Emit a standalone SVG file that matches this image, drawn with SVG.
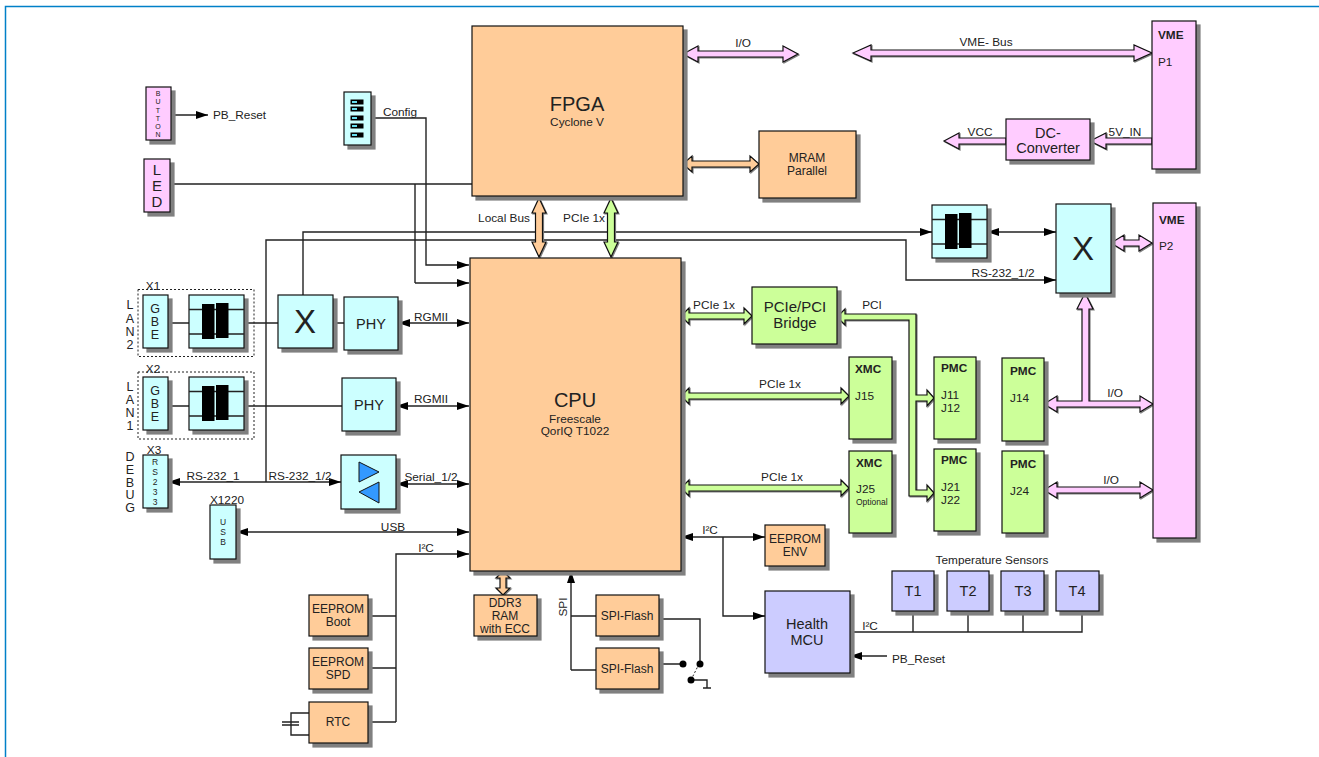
<svg xmlns="http://www.w3.org/2000/svg" width="1319" height="757" viewBox="0 0 1319 757">
<style>
text{font-family:"Liberation Sans",Arial,sans-serif;font-size:11.800px;fill:#222;text-anchor:middle}
.box{stroke:#111;stroke-width:1.2;filter:drop-shadow(4px 4px 0 #808080)}
.or{fill:#FFCC99}.cy{fill:#CCFFFF}.gr{fill:#CCFF99}.pk{fill:#FFCCFF}.lv{fill:#CCCCFF}
.ln{fill:none;stroke:#222;stroke-width:1.4}
.ar{marker-end:url(#a)}
.db{marker-start:url(#as);marker-end:url(#a)}
.th{stroke:#111;stroke-width:1.2;filter:drop-shadow(1px 1px 0 #808080)}
.l{text-anchor:start}
.b{font-weight:bold}
.t12{font-size:12px}
.t145{font-size:14.500px}
.t85{font-size:8.500px}
.t125{font-size:12.500px}
</style>
<defs>
<marker id="a" markerUnits="userSpaceOnUse" markerWidth="12" markerHeight="8" refX="12" refY="4" orient="auto"><path d="M0 0L12 4L0 8Z" fill="#000"/></marker>
<marker id="as" markerUnits="userSpaceOnUse" markerWidth="12" markerHeight="8" refX="0" refY="4" orient="auto"><path d="M12 0L0 4L12 8Z" fill="#000"/></marker>
<g id="tr"><rect class="box cy" width="55" height="53"/><path d="M0 14.500H55M0 39H55" class="ln"/><rect x="13" y="9" width="12.500" height="35"/><rect x="27" y="8" width="12.500" height="35"/></g>
</defs>
<path d="M5.500 757V6.500H1319" fill="none" stroke="#0080C8" stroke-width="1.500"/>

<g id="connectors">
<path class="ln ar" d="M171 115H208"/>
<path class="ln" d="M170 184H472M415 184V283"/>
<path class="ln ar" d="M415 283H469"/>
<path class="ln ar" d="M371 118H426V265H469"/>
<path class="ln ar" d="M303 295V232H932"/>
<path class="ln ar" d="M266 482V240H906V280H1056"/>
<path class="ln db" d="M987 232H1056"/>
<path class="ln" d="M168 323H189M244 323H278M333 323H344M168 406H189M244 406H342"/>
<path class="ln db" d="M398 323H469"/>
<path class="ln db" d="M396 406H469"/>
<path class="ln db" d="M168 482H341"/>
<path class="ln db" d="M396 484H469"/>
<path class="ln db" d="M236 532H469"/>
<path class="ln ar" d="M396 722V554H469"/>
<path class="ln" d="M368 616H396M368 668H396M368 722H396M309 713H291V735H309M291 722V713M291 725V735M282 722H299M282 725H299"/>
<path class="ln" d="M571 670V580M571 616H596M571 670H596M659 619H700V664M659 664H683M691 680H707V688M703 688H711"/>
<path d="M691 680L699 664" fill="none" stroke="#222" stroke-width="1" stroke-dasharray="2 2"/>
<path d="M571 571L575 583H567Z" fill="#000"/>
<circle cx="683" cy="664" r="3.500"/><circle cx="700" cy="664" r="3.500"/><circle cx="691" cy="680" r="3.500"/>
<path class="ln db" d="M681 537H765"/>
<path class="ln ar" d="M723 537V616H765"/>
<path class="ln" d="M850 632H1082V611M913 611V632M968 611V632M1023 611V632"/>
<path class="ln ar" d="M887 656H850"/>
<path class="th or" d="M539 198L546 213H542.500V242H546L539 257L532 242H535.500V213H532Z"/>
<path class="th gr" d="M611 198L618 213H614.500V242H618L611 257L604 242H607.500V213H604Z"/>
<path class="th pk" d="M683 54L698 46V51H783V46L798 54L783 62V57H698V62Z"/>
<path class="th pk" d="M853 53L871 45V50H1134V45L1152 53L1134 61V56H871V61Z"/>
<path class="th or" d="M683 164L692 156V161H750V156L759 164L750 172V167H692V172Z"/>
<path class="th pk" d="M944 141L959 133V138H1006V144H959V149Z"/>
<path class="th pk" d="M1090 141L1106 133V138H1152V144H1106V149Z"/>
<path class="th or" d="M503 571L510 578H506V588H510L503 595L496 588H500V578H496Z"/>
<path class="th gr" d="M681 316L689 308V313H744V308L752 316L744 324V319H689V324Z"/>
<path class="th gr" d="M681 396L689 388V393H841V388L849 396L841 404V399H689V404Z"/>
<path class="th gr" d="M681 488L689 480V485H841V480L849 488L841 496V491H689V496Z"/>
<path class="th gr" d="M837 317L845 309V314H916V395H927V390L934 398L927 406V401H916V490H927V485L934 493L927 501V496H909V320H845V325Z"/>
<path class="th pk" d="M1111 243L1124 235V240H1139V235L1152 243L1139 251V246H1124V251Z"/>
<path class="th pk" d="M1044 404L1057 396V401H1082V309H1077L1085 293L1093 309H1089V401H1140V396L1153 404L1140 412V407H1057V412Z"/>
<path class="th pk" d="M1044 490L1057 482V487H1140V482L1153 490L1140 498V493H1057V498Z"/>
</g>

<g id="labels">
<text x="743" y="47">I/O</text>
<text x="986" y="46">VME- Bus</text>
<text x="980" y="136">VCC</text>
<text x="1125" y="136">5V_IN</text>
<text x="400" y="116">Config</text>
<text class="l" x="213" y="119">PB_Reset</text>
<text x="504" y="222">Local Bus</text>
<text x="584" y="222">PCIe 1x</text>
<text x="1003" y="277">RS-232_1/2</text>
<text x="714" y="309">PCIe 1x</text>
<text x="872" y="309">PCI</text>
<text x="780" y="388">PCIe 1x</text>
<text x="782" y="481">PCIe 1x</text>
<text x="431" y="321">RGMII</text>
<text x="431" y="403">RGMII</text>
<text x="213" y="480">RS-232_1</text>
<text x="300" y="480">RS-232_1/2</text>
<text x="431" y="481">Serial_1/2</text>
<text x="393" y="531">USB</text>
<text x="426" y="552">I²C</text>
<text x="710" y="534">I²C</text>
<text x="870" y="630">I²C</text>
<text x="1115" y="397">I/O</text>
<text x="1111" y="484">I/O</text>
<text transform="translate(567 607) rotate(-90)">SPI</text>
<text class="l" x="892" y="663">PB_Reset</text>
<text x="992" y="564">Temperature Sensors</text>
<text x="153" y="290">X1</text>
<text x="153" y="373">X2</text>
<text x="154" y="454">X3</text>
<text x="227" y="504">X1220</text>
<g><text class="t125" x="130" y="309">L</text><text class="t125" x="130" y="323">A</text><text class="t125" x="130" y="336">N</text><text class="t125" x="130" y="349">2</text>
<text class="t125" x="130" y="391">L</text><text class="t125" x="130" y="404">A</text><text class="t125" x="130" y="417">N</text><text class="t125" x="130" y="430">1</text>
<text class="t125" x="130" y="461">D</text><text class="t125" x="130" y="474">E</text><text class="t125" x="130" y="487">B</text><text class="t125" x="130" y="499">U</text><text class="t125" x="130" y="512">G</text></g>
</g>

<g id="fpga"><rect class="box or" x="472" y="26" width="211" height="170"/><text x="577" y="111" style="font-size:20px">FPGA</text><text x="577" y="126">Cyclone V</text></g>
<g id="cpu"><rect class="box or" x="470" y="258" width="211" height="313"/><text x="575" y="407" style="font-size:20px">CPU</text><text x="575" y="423">Freescale</text><text x="575" y="435">QorIQ T1022</text></g>
<g id="mram"><rect class="box or" x="759" y="131" width="97" height="67"/><text class="t12" x="807" y="162">MRAM</text><text class="t12" x="807" y="175">Parallel</text></g>
<g id="vme-p1"><rect class="box pk" x="1152" y="21" width="44" height="148"/><text class="l b" x="1158" y="39">VME</text><text class="l" x="1158" y="66">P1</text></g>
<g id="vme-p2"><rect class="box pk" x="1153" y="203" width="43" height="335"/><text class="l b" x="1159" y="224">VME</text><text class="l" x="1159" y="250">P2</text></g>
<g id="dc"><rect class="box pk" x="1006" y="119" width="84" height="41"/><text class="t145" x="1048" y="138">DC-</text><text class="t145" x="1048" y="153">Converter</text></g>
<g id="button"><rect class="box pk" x="146" y="87" width="25" height="53"/><text x="158" y="96" style="font-size:7px">B</text><text x="158" y="104" style="font-size:7px">U</text><text x="158" y="113" style="font-size:7px">T</text><text x="158" y="121" style="font-size:7px">T</text><text x="158" y="129" style="font-size:7px">O</text><text x="158" y="137" style="font-size:7px">N</text></g>
<g id="led"><rect class="box pk" x="144" y="159" width="26" height="53"/><text x="157" y="175" style="font-size:15px">L</text><text x="157" y="191" style="font-size:15px">E</text><text x="157" y="207" style="font-size:15px">D</text></g>
<g id="dip"><rect class="box cy" x="344" y="92" width="27" height="53"/><g stroke="#000" stroke-width="1"><rect x="351" y="100" width="12" height="4" fill="#000"/><rect x="351" y="107" width="12" height="4" fill="#000"/><rect x="351" y="116" width="12" height="4" fill="#000"/><rect x="351" y="124" width="12" height="4" fill="#000"/><rect x="351" y="133" width="12" height="4" fill="#000"/></g><g fill="#66DDEE"><rect x="352" y="101" width="5" height="2"/><rect x="352" y="108" width="5" height="2"/><rect x="352" y="117" width="5" height="2"/><rect x="352" y="125" width="5" height="2"/><rect x="352" y="134" width="5" height="2"/></g></g>

<g id="x1-box"><rect x="138" y="289.500" width="116" height="67" fill="none" stroke="#222" stroke-width="1" stroke-dasharray="2 2"/><rect class="box cy" x="143" y="295" width="25" height="53"/><text class="t125" x="155" y="313">G</text><text class="t125" x="155" y="326">B</text><text class="t125" x="155" y="339">E</text><use href="#tr" x="189" y="295"/></g>
<g id="x2-box"><rect x="138" y="372" width="116" height="67" fill="none" stroke="#222" stroke-width="1" stroke-dasharray="2 2"/><rect class="box cy" x="143" y="377" width="25" height="53"/><text class="t125" x="155" y="395">G</text><text class="t125" x="155" y="408">B</text><text class="t125" x="155" y="421">E</text><use href="#tr" x="189" y="377"/></g>
<g id="x3"><rect class="box cy" x="143" y="455" width="25" height="53"/><text class="t85" x="155" y="465">R</text><text class="t85" x="155" y="475">S</text><text class="t85" x="155" y="485">2</text><text class="t85" x="155" y="495">3</text><text class="t85" x="155" y="505">3</text></g>
<g id="x1220"><rect class="box cy" x="210" y="505" width="26" height="54"/><text class="t85" x="223" y="525">U</text><text class="t85" x="223" y="535">S</text><text class="t85" x="223" y="545">B</text></g>
<g id="sw1"><rect class="box cy" x="278" y="295" width="55" height="53"/><text x="305" y="333" style="font-size:33px">X</text></g>
<g id="phy1"><rect class="box cy" x="344" y="297" width="54" height="53"/><text class="t145" x="371" y="329">PHY</text></g>
<g id="phy2"><rect class="box cy" x="342" y="378" width="54" height="53"/><text class="t145" x="369" y="410">PHY</text></g>
<g id="driver"><rect class="box cy" x="341" y="455" width="55" height="54"/><path d="M359 462L379 472L359 482Z" fill="#3399FF" stroke="#111"/><path d="M379 482L359 492L379 503Z" fill="#3399FF" stroke="#111"/></g>
<g id="tr2"><use href="#tr" x="932" y="205"/></g>
<g id="sw2"><rect class="box cy" x="1056" y="204" width="55" height="89"/><text x="1083" y="260" style="font-size:33px">X</text></g>
<g id="bridge"><rect class="box gr" x="752" y="287" width="85" height="57"/><text x="795" y="312" style="font-size:15px">PCIe/PCI</text><text x="795" y="328" style="font-size:15px">Bridge</text></g>
<g id="xmc15"><rect class="box gr" x="849" y="357" width="43" height="82"/><text class="l b" x="855" y="373">XMC</text><text class="l" x="855" y="400">J15</text></g>
<g id="xmc25"><rect class="box gr" x="849" y="451" width="43" height="82"/><text class="l b" x="856" y="467">XMC</text><text class="l" x="856" y="493">J25</text><text class="l t85" x="856" y="505">Optional</text></g>
<g id="pmc11"><rect class="box gr" x="934" y="357" width="42" height="82"/><text class="l b" x="941" y="372">PMC</text><text class="l" x="941" y="399">J11</text><text class="l" x="941" y="412">J12</text></g>
<g id="pmc21"><rect class="box gr" x="934" y="449" width="42" height="82"/><text class="l b" x="941" y="464">PMC</text><text class="l" x="941" y="491">J21</text><text class="l" x="941" y="504">J22</text></g>
<g id="pmc14"><rect class="box gr" x="1002" y="358" width="42" height="83"/><text class="l b" x="1010" y="375">PMC</text><text class="l" x="1010" y="402">J14</text></g>
<g id="pmc24"><rect class="box gr" x="1002" y="451" width="42" height="82"/><text class="l b" x="1010" y="468">PMC</text><text class="l" x="1010" y="495">J24</text></g>
<g id="eeprom-env"><rect class="box or" x="765" y="525" width="60" height="41"/><text class="t12" x="795" y="543">EEPROM</text><text class="t12" x="795" y="556">ENV</text></g>
<g id="health"><rect class="box lv" x="765" y="591" width="85" height="82"/><text class="t145" x="807" y="629">Health</text><text class="t145" x="807" y="645">MCU</text></g>
<g id="t1"><rect class="box lv" x="892" y="571" width="42" height="40"/><text class="t145" x="913" y="596">T1</text></g>
<g id="t2"><rect class="box lv" x="947" y="571" width="42" height="40"/><text class="t145" x="968" y="596">T2</text></g>
<g id="t3"><rect class="box lv" x="1001" y="571" width="43" height="40"/><text class="t145" x="1023" y="596">T3</text></g>
<g id="t4"><rect class="box lv" x="1056" y="571" width="43" height="40"/><text class="t145" x="1077" y="596">T4</text></g>
<g id="ee-boot"><rect class="box or" x="309" y="595" width="59" height="41"/><text class="t12" x="338" y="613">EEPROM</text><text class="t12" x="338" y="626">Boot</text></g>
<g id="ee-spd"><rect class="box or" x="309" y="648" width="59" height="41"/><text class="t12" x="338" y="666">EEPROM</text><text class="t12" x="338" y="679">SPD</text></g>
<g id="rtc"><rect class="box or" x="309" y="702" width="59" height="41"/><text class="t12" x="338" y="726">RTC</text></g>
<g id="ddr3"><rect class="box or" x="474" y="595" width="63" height="41"/><text class="t12" x="505" y="607">DDR3</text><text class="t12" x="505" y="620">RAM</text><text class="t12" x="505" y="633">with ECC</text></g>
<g id="spi1"><rect class="box or" x="596" y="595" width="63" height="41"/><text class="t12" x="627" y="620">SPI-Flash</text></g>
<g id="spi2"><rect class="box or" x="596" y="648" width="63" height="41"/><text class="t12" x="627" y="673">SPI-Flash</text></g>
</svg>
